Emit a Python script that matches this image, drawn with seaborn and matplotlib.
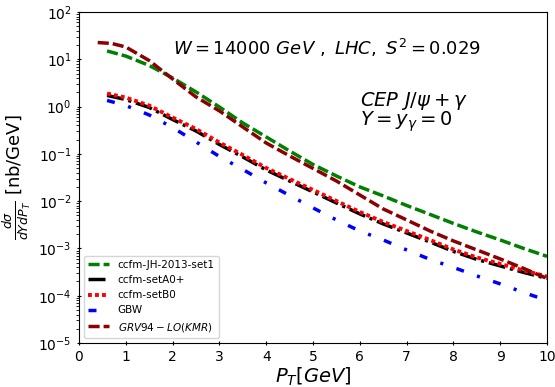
import numpy as np
import pandas as pd
import matplotlib
matplotlib.use("Agg")
import matplotlib.pyplot as plt
import seaborn as sns

# values (nb/GeV)
pt = [0.6, 1.0, 1.5, 2.0, 2.5, 3.0, 3.5, 4.0, 4.5, 5.0, 5.5, 6.0, 6.5, 7.0, 7.5, 8.0, 8.5, 9.0, 9.5, 10.0]
pt_grv = [0.4, 0.7, 1.0, 1.5, 2.0, 2.5, 3.0, 3.5, 4.0, 4.5, 5.0, 5.5, 6.0, 6.5, 7.0, 7.5, 8.0, 8.5, 9.0, 9.5, 10.0]

jh2013 = [15.0, 11.7, 7.4, 4.03, 2.04, 0.98, 0.45, 0.228, 0.115, 0.0597, 0.0341, 0.020, 0.0129,
          0.0081, 0.00524, 0.00338, 0.00223, 0.00151, 0.00100, 0.00068]
setA0 = [1.72, 1.41, 0.957, 0.533, 0.305, 0.158, 0.0861, 0.0457, 0.0267, 0.01567, 0.00916, 0.00537,
         0.00330, 0.00213, 0.00137, 0.000865, 0.000586, 0.000427, 0.000311, 0.000232]
setB0 = [1.89, 1.55, 1.05, 0.586, 0.336, 0.174, 0.0947, 0.0503, 0.0294, 0.01724, 0.01008, 0.0059,
         0.00363, 0.00234, 0.00151, 0.00095, 0.000645, 0.00047, 0.000342, 0.000255]
gbw = [1.35, 1.05, 0.665, 0.361, 0.179, 0.0881, 0.0468, 0.0243, 0.0132, 0.0072, 0.00401, 0.00234,
       0.00151, 0.00093, 0.000586, 0.000397, 0.000262, 0.000178, 0.000117, 0.0000796]
grv94 = [22.6, 21.6, 18.2, 9.4, 3.84, 1.60, 0.81, 0.37, 0.170, 0.0904, 0.0492, 0.0267, 0.0135,
         0.00684, 0.00401, 0.00234, 0.00144, 0.00093, 0.00060, 0.000378, 0.000232]

fig, ax = plt.subplots(figsize=(5.55, 3.87), dpi=100)
fig.subplots_adjust(left=0.1423, right=0.9856, bottom=0.1137, top=0.969)

sns.lineplot(x=pt, y=jh2013, ax=ax, color="green", lw=2.5, linestyle=(0, (3.2, 1.15)),
             label="ccfm-JH-2013-set1")
sns.lineplot(x=pt, y=setA0, ax=ax, color="black", lw=2.5, linestyle=(0, (4.9, 1.4, 0.9, 1.4)),
             label="ccfm-setA0+")
sns.lineplot(x=pt, y=setB0, ax=ax, color="red", lw=2.8, linestyle=(0, (1, 0.8)),
             label="ccfm-setB0")
sns.lineplot(x=pt, y=gbw, ax=ax, color="blue", lw=2.5, linestyle=(0, (2.3, 4, 0.9, 4)),
             label="GBW")
sns.lineplot(x=pt_grv, y=grv94, ax=ax, color="darkred", lw=2.5, linestyle=(0, (3.2, 1.15)),
             label=r"$GRV94-LO(KMR)$")

ax.set_yscale("log")
ax.set_xlim(0, 10)
ax.set_ylim(1e-5, 1e2)
ax.set_xticks(range(0, 11))
ax.tick_params(direction="inout", labelsize=10)

ax.set_xlabel(r"$P_T[GeV]$", fontsize=14, labelpad=1)
ax.set_ylabel(r"$\frac{d\sigma}{dYdP_T}$ [nb/GeV]", fontsize=13)

ax.text(2.0, 17.4, r"$W=14000\ GeV\ ,\ LHC,\ S^2=0.029$", fontsize=13, va="center")
ax.text(6.0, 1.31, r"$CEP\ J/\psi+\gamma$", fontsize=14, va="center")
ax.text(6.0, 0.47, r"$Y=y_\gamma=0$", fontsize=14, va="center")

ax.legend(loc="lower left", fontsize=7.5)

plt.savefig("out.png", dpi=100)
